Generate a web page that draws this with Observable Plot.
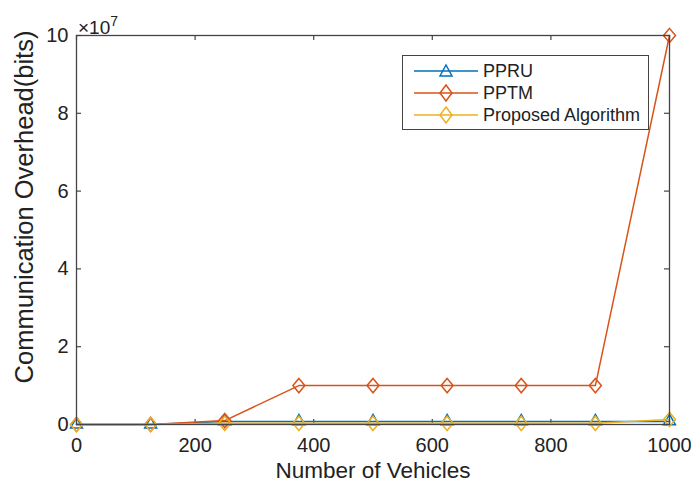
<!DOCTYPE html>
<html>
<head>
<meta charset="utf-8">
<script src="https://cdn.jsdelivr.net/npm/d3@7"></script>
<script src="https://cdn.jsdelivr.net/npm/@observablehq/plot@0.6"></script>
<style>
  body { margin: 0; background: #fff; }
  #wrap { position: relative; width: 691px; height: 485px; font-family: "Liberation Sans", Arial, sans-serif; }
  #wrap svg { font-family: "Liberation Sans", Arial, sans-serif; }
  svg [aria-label="x-axis tick label"] text, svg [aria-label="y-axis tick label"] text { font-size: 20px; fill: #222; }
  svg [aria-label="x-axis label"] text { font-size: 22.5px; fill: #222; }
  #expo { position: absolute; left: 78px; top: 14px; font-size: 19px; color: #222; }
  #expo sup { font-size: 14px; position: relative; top: -1px; }
  #legend { position: absolute; left: 402px; top: 55px; width: 245px; height: 73px; border: 1.3px solid #444; background: #fff; }
  .lg { position: absolute; left: 0; height: 22px; display: flex; align-items: center; font-size: 18px; color: #222; }
</style>
</head>
<body>
<div id="wrap"></div>
<script>
const vehicles = [0, 125, 250, 375, 500, 625, 750, 875, 1000];
// values in units of 10^7 bits
const ppru = [0, 0, 0.08, 0.08, 0.08, 0.08, 0.08, 0.08, 0.08];
const pptm = [0, 0, 0.1, 1, 1, 1, 1, 1, 10];
const proposed = [0, 0, 0.03, 0.03, 0.03, 0.03, 0.03, 0.03, 0.13];
const seriesNames = ["PPRU", "PPTM", "Proposed Algorithm"];
const seriesColors = ["#0072BD", "#D95319", "#EDB120"];
const xTicks = [0, 200, 400, 600, 800, 1000];
const yTicks = [0, 2, 4, 6, 8, 10];
const yLabel = "Communication Overhead(bits)";

const W = 691, H = 485, mL = 76, mR = 22, mT = 35, mB = 61;
const fw = W - mL - mR, fh = H - mT - mB;

const diamond = {draw(ctx, size) {
  const r = Math.sqrt(size / Math.PI);
  const w = r * 1.3, h = r * 1.55;
  ctx.moveTo(0, -h); ctx.lineTo(w, 0); ctx.lineTo(0, h); ctx.lineTo(-w, 0); ctx.closePath();
}};
const triangle = {draw(ctx, size) {
  const r = Math.sqrt(size / Math.PI);
  ctx.moveTo(0, -r * 1.5); ctx.lineTo(r * 1.3, r * 0.75); ctx.lineTo(-r * 1.3, r * 0.75); ctx.closePath();
}};
const symbols = [triangle, diamond, diamond];
const allSeries = [ppru, pptm, proposed];

const marks = [];
allSeries.forEach((vals, i) => {
  const data = vehicles.map((x, j) => ({x, y: vals[j]}));
  marks.push(Plot.line(data, {x: "x", y: "y", stroke: seriesColors[i], strokeWidth: 1.5}));
  marks.push(Plot.dot(data, {x: "x", y: "y", stroke: seriesColors[i], strokeWidth: 1.5, fill: "none", r: 4.6, symbol: symbols[i]}));
});

const chart = Plot.plot({
  width: W, height: H,
  marginLeft: mL, marginRight: mR, marginTop: mT, marginBottom: mB,
  style: {background: "#fff", overflow: "visible"},
  x: {domain: [0, 1000]},
  y: {domain: [0, 10]},
  marks: [
    Plot.axisX(xTicks, {tickSize: 0, tickPadding: 13, tickFormat: d => String(d), label: "Number of Vehicles", labelAnchor: "center", labelArrow: "none", labelOffset: 53}),
    Plot.axisY(yTicks, {tickSize: 0, tickPadding: 8, tickFormat: d => String(d), label: null}),
    Plot.text([yLabel], {text: d => d, frameAnchor: "left", textAnchor: "middle", rotate: -90, dx: -52, dy: -23, fontSize: 25.5, fill: "#222", lineAnchor: "middle"}),
    Plot.tickX(xTicks, {x: d => d, stroke: "#444", strokeWidth: 1.2, insetTop: fh - 5}),
    Plot.tickX(xTicks, {x: d => d, stroke: "#444", strokeWidth: 1.2, insetBottom: fh - 5}),
    Plot.tickY(yTicks, {y: d => d, stroke: "#444", strokeWidth: 1.2, insetRight: fw - 5}),
    Plot.tickY(yTicks, {y: d => d, stroke: "#444", strokeWidth: 1.2, insetLeft: fw - 5}),
    ...marks,
    Plot.frame({stroke: "#444", strokeWidth: 1.3})
  ]
});
const wrap = document.getElementById("wrap");
wrap.appendChild(chart);

const expo = document.createElement("div");
expo.id = "expo";
expo.innerHTML = "\u00d710<sup>7</sup>";
wrap.appendChild(expo);

const legend = document.createElement("div");
legend.id = "legend";
const shapes = [
  '<polygon points="32,3 38,14 26,14" fill="none" stroke="C" stroke-width="1.5"/>',
  '<polygon points="32,1 38,9 32,17 26,9" fill="none" stroke="C" stroke-width="1.5"/>',
  '<polygon points="32,1 38,9 32,17 26,9" fill="none" stroke="C" stroke-width="1.5"/>'
];
seriesNames.forEach((name, i) => {
  const row = document.createElement("div");
  row.className = "lg";
  row.style.top = (4 + i * 22) + "px";
  row.innerHTML = '<svg width="80" height="18" style="margin-left:11px;overflow:visible">' +
    '<line x1="0" y1="9" x2="64" y2="9" stroke="' + seriesColors[i] + '" stroke-width="1.5"/>' +
    shapes[i].replace("C", seriesColors[i]) + '</svg>' +
    '<span style="margin-left:-11px">' + name + '</span>';
  legend.appendChild(row);
});
wrap.appendChild(legend);
</script>
</body>
</html>
